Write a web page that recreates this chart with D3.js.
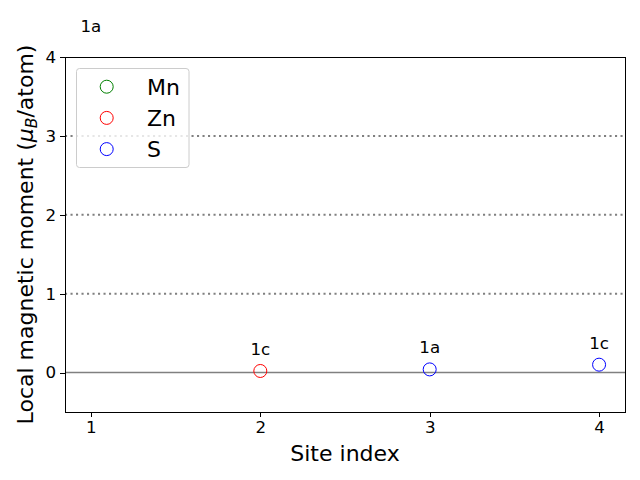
<!DOCTYPE html>
<html><head><meta charset="utf-8">
<script src="https://cdn.jsdelivr.net/npm/d3@7"></script>
<style>body{margin:0;background:#fff;}svg{font-family:"DejaVu Sans",sans-serif;}</style>
</head><body><svg id="c" width="640" height="480"></svg>
<script>
const sites = [1, 2, 3, 4];
const elements = ["Mn", "Zn", "S", "S"];
const moments = [4.12, 0.02, 0.04, 0.10];
const wyckoff = ["1a", "1c", "1a", "1c"];
const legendNames = ["Mn", "Zn", "S"];
const legendColors = ["green", "red", "blue"];
const xTicks = [1, 2, 3, 4];
const yTicks = [0, 1, 2, 3, 4];
const gridVals = [1, 2, 3];

const svg = d3.select("#c");
const L = 65, R = 625, T = 57, B = 412;
const x = d3.scaleLinear().domain([0.847, 4.153]).range([L, R]);
const y = d3.scaleLinear().domain([-0.5, 4]).range([B, T]);
const color = d3.scaleOrdinal().domain(legendNames).range(legendColors);

svg.append("defs").append("clipPath").attr("id", "clip")
  .append("rect").attr("x", L).attr("y", T).attr("width", R - L).attr("height", B - T);

const g = svg.append("g").attr("clip-path", "url(#clip)");
g.selectAll(".grid").data(gridVals).enter().append("line")
  .attr("x1", L).attr("x2", R).attr("y1", d => y(d)).attr("y2", d => y(d))
  .attr("stroke", "gray").attr("stroke-width", 2).attr("stroke-dasharray", "2.1,3.4");
g.append("line").attr("x1", L).attr("x2", R).attr("y1", y(0)).attr("y2", y(0))
  .attr("stroke", "gray").attr("stroke-width", 1.5);
g.selectAll(".pt").data(sites).enter().append("circle")
  .attr("cx", (d) => x(d)).attr("cy", (d, i) => y(moments[i])).attr("r", 6.5)
  .attr("fill", "none").attr("stroke", (d, i) => color(elements[i])).attr("stroke-width", 1);

svg.selectAll(".lab").data(sites).enter().append("text")
  .attr("x", d => x(d)).attr("y", (d, i) => y(moments[i]) - 16)
  .attr("text-anchor", "middle").attr("font-size", 16.7).text((d, i) => wyckoff[i]);

const xa = svg.append("g").attr("transform", `translate(0,${B})`)
  .call(d3.axisBottom(x).tickValues(xTicks).tickFormat(d3.format("d")).tickSize(5).tickPadding(4));
const ya = svg.append("g").attr("transform", `translate(${L},0)`)
  .call(d3.axisLeft(y).tickValues(yTicks).tickFormat(d3.format("d")).tickSize(5).tickPadding(4));
[xa, ya].forEach(a => {
  a.select(".domain").remove();
  a.selectAll("text").attr("font-size", 16.7).attr("fill", "#000").attr("font-family", "DejaVu Sans");
  a.selectAll("line").attr("stroke", "#000").attr("stroke-width", 1).attr("shape-rendering", "crispEdges");
});
svg.append("rect").attr("x", L).attr("y", T).attr("width", R - L).attr("height", B - T)
  .attr("fill", "none").attr("stroke", "#000").attr("stroke-width", 1).attr("shape-rendering", "crispEdges");

svg.append("text").attr("x", (L + R) / 2).attr("y", 461).attr("text-anchor", "middle")
  .attr("font-size", 22).text("Site index");
const yl = svg.append("text").attr("transform", `translate(33,${(T + B) / 2}) rotate(-90)`)
  .attr("text-anchor", "middle").attr("font-size", 22);
yl.append("tspan").text("Local magnetic moment (");
yl.append("tspan").attr("font-style", "italic").text("μ");
yl.append("tspan").attr("font-style", "italic").attr("font-size", 15.5).attr("dy", 4).text("B");
yl.append("tspan").attr("dy", -4).text("/atom)");

const lg = svg.append("g");
lg.append("rect").attr("x", 76.5).attr("y", 68.5).attr("width", 112.5).attr("height", 99)
  .attr("rx", 3).attr("fill", "#fff").attr("fill-opacity", 0.8).attr("stroke", "#ccc").attr("stroke-width", 1);
legendNames.forEach((n, i) => {
  const yy = 86.7 + i * 31.2;
  lg.append("circle").attr("cx", 106.7).attr("cy", yy).attr("r", 6.5)
    .attr("fill", "none").attr("stroke", color(n)).attr("stroke-width", 1);
  lg.append("text").attr("x", 147).attr("y", yy + 7.8).attr("font-size", 22).text(n);
});
</script></body></html>
